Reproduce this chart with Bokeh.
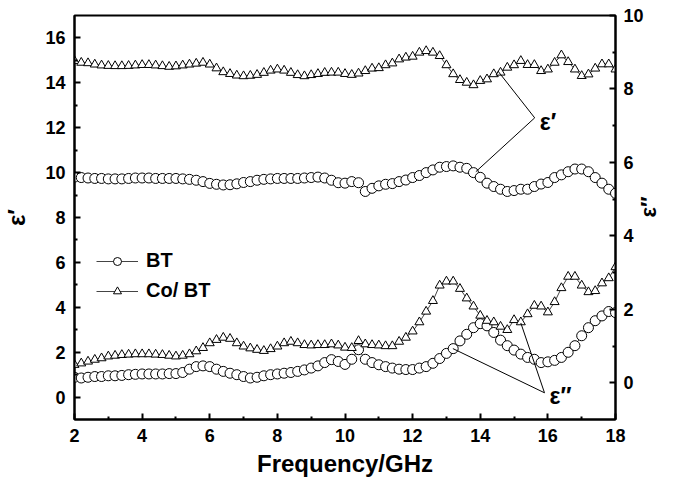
from math import pi
from bokeh.plotting import figure
from bokeh.models import (Range1d, LinearAxis, FixedTicker, Legend, LegendItem,
                          ColumnDataSource)
from bokeh.embed import file_html
from bokeh.resources import INLINE
from bokeh.core.properties import value

# ---------------- data ----------------
freq = [round(2 + 0.2 * i, 1) for i in range(81)]  # GHz, 2.0 .. 18.0

# epsilon' (left axis)
bt_e1 = [9.80, 9.78, 9.76, 9.74, 9.74, 9.72, 9.72, 9.72, 9.74, 9.76,
         9.76, 9.76, 9.74, 9.74, 9.74, 9.74, 9.72, 9.70, 9.66, 9.60,
         9.52, 9.48, 9.45, 9.46, 9.50, 9.56, 9.60, 9.66, 9.70, 9.72,
         9.74, 9.74, 9.74, 9.74, 9.76, 9.78, 9.80, 9.76, 9.66, 9.55,
         9.53, 9.60, 9.55, 9.16, 9.30, 9.41, 9.48, 9.51, 9.60, 9.67,
         9.78, 9.87, 10.00, 10.12, 10.24, 10.27, 10.30, 10.24, 10.19, 10.00,
         9.79, 9.53, 9.38, 9.26, 9.16, 9.20, 9.26, 9.26, 9.38, 9.49,
         9.56, 9.78, 9.90, 10.04, 10.16, 10.16, 10.04, 9.78, 9.53, 9.26,
         9.08]

cobt_e1 = [14.98, 14.90, 14.88, 14.82, 14.78, 14.76, 14.75, 14.75, 14.76, 14.78,
           14.80, 14.80, 14.78, 14.75, 14.72, 14.74, 14.78, 14.82, 14.86, 14.90,
           14.82, 14.65, 14.48, 14.40, 14.33, 14.30, 14.32, 14.36, 14.45, 14.55,
           14.60, 14.55, 14.45, 14.35, 14.30, 14.35, 14.40, 14.45, 14.46, 14.46,
           14.40, 14.36, 14.42, 14.53, 14.64, 14.66, 14.79, 14.87, 15.05, 15.13,
           15.17, 15.35, 15.42, 15.35, 15.20, 14.79, 14.39, 14.13, 14.01, 13.90,
           14.09, 14.16, 14.39, 14.46, 14.68, 14.79, 14.98, 14.80, 14.80, 14.53,
           14.60, 14.90, 15.23, 14.93, 14.60, 14.31, 14.38, 14.64, 14.83, 14.83,
           14.60]

# epsilon'' (right axis)
bt_e2 = [0.15, 0.13, 0.15, 0.17, 0.17, 0.19, 0.19, 0.20, 0.22, 0.23,
         0.24, 0.24, 0.24, 0.24, 0.25, 0.25, 0.28, 0.37, 0.44, 0.46,
         0.44, 0.37, 0.31, 0.26, 0.22, 0.17, 0.13, 0.15, 0.19, 0.22,
         0.24, 0.26, 0.28, 0.31, 0.35, 0.40, 0.46, 0.55, 0.63, 0.58,
         0.50, 0.64, 0.90, 0.64, 0.55, 0.49, 0.44, 0.40, 0.37, 0.36,
         0.36, 0.40, 0.44, 0.53, 0.66, 0.80, 0.93, 1.14, 1.32, 1.50,
         1.61, 1.55, 1.37, 1.16, 1.01, 0.89, 0.78, 0.69, 0.64, 0.55,
         0.57, 0.61, 0.69, 0.83, 1.01, 1.28, 1.50, 1.69, 1.82, 1.94,
         1.91]

cobt_e2 = [0.49, 0.53, 0.58, 0.63, 0.67, 0.72, 0.74, 0.76, 0.77, 0.78,
           0.78, 0.78, 0.77, 0.76, 0.74, 0.72, 0.74, 0.78, 0.86, 0.95,
           1.08, 1.17, 1.23, 1.20, 1.08, 0.99, 0.94, 0.90, 0.87, 0.92,
           0.99, 1.08, 1.12, 1.08, 1.03, 1.02, 1.03, 1.03, 1.05, 1.02,
           0.96, 0.95, 1.14, 1.05, 1.03, 1.02, 1.00, 1.00, 1.12, 1.23,
           1.40, 1.65, 1.94, 2.23, 2.65, 2.76, 2.76, 2.56, 2.30, 2.08,
           1.83, 1.69, 1.65, 1.53, 1.44, 1.71, 1.65, 1.87, 2.10, 2.08,
           1.92, 2.20, 2.58, 2.89, 2.89, 2.65, 2.47, 2.50, 2.71, 2.85,
           3.15]

x_ticks = [2, 4, 6, 8, 10, 12, 14, 16, 18]
x_minor = [3, 5, 7, 9, 11, 13, 15, 17]
left_ticks = [0, 2, 4, 6, 8, 10, 12, 14, 16]
left_minor = [1, 3, 5, 7, 9, 11, 13, 15]
right_ticks = [0, 2, 4, 6, 8, 10]
right_minor = [1, 3, 5, 7, 9]

# annotation pointers (left-axis coordinates)
ann1_x = [14.52, 15.61, 13.87]
ann1_y = [14.53, 12.44, 10.04]
ann2_x = [13.19, 15.90, 15.20]
ann2_y = [2.16, 0.19, 3.30]

FONT = "Liberation Sans"

src = ColumnDataSource(dict(f=freq, bt1=bt_e1, co1=cobt_e1, bt2=bt_e2, co2=cobt_e2))

p = figure(width=677, height=481, x_range=Range1d(2, 18), y_range=Range1d(-1, 17),
           output_backend="svg", toolbar_location=None,
           min_border_left=73, min_border_right=62, min_border_top=15, min_border_bottom=62)
p.extra_y_ranges = {"e2": Range1d(-1, 10)}
p.xgrid.visible = False
p.ygrid.visible = False
p.outline_line_color = "black"
p.outline_line_width = 2
p.background_fill_color = "white"
p.border_fill_color = "white"

right_axis = LinearAxis(y_range_name="e2")
p.add_layout(right_axis, "right")

p.xaxis.ticker = FixedTicker(ticks=x_ticks, minor_ticks=x_minor)
p.yaxis[0].ticker = FixedTicker(ticks=left_ticks, minor_ticks=left_minor)
right_axis.ticker = FixedTicker(ticks=right_ticks, minor_ticks=right_minor)

for ax in [p.xaxis[0], p.yaxis[0], right_axis]:
    ax.axis_line_width = 2
    ax.axis_line_color = "black"
    ax.major_tick_in = 6
    ax.major_tick_out = 0
    ax.minor_tick_in = 3
    ax.minor_tick_out = 0
    ax.major_tick_line_width = 2
    ax.minor_tick_line_width = 2
    ax.major_label_text_font = FONT
    ax.major_label_text_font_style = "bold"
    ax.major_label_text_font_size = "18px"
    ax.major_label_text_color = "black"
    ax.major_label_standoff = 9
    ax.axis_label_text_font = FONT
    ax.axis_label_text_font_style = "bold"
    ax.axis_label_text_color = "black"

p.xaxis.axis_label = "Frequency/GHz"
p.xaxis.axis_label_text_font_size = "24px"
p.xaxis.axis_label_standoff = 5

p.yaxis[0].axis_label = "ε′"
p.yaxis[0].axis_label_text_font_size = "24px"
p.yaxis[0].axis_label_standoff = 12

right_axis.axis_label = "ε″"
right_axis.axis_label_text_font_size = "22px"
right_axis.axis_label_standoff = 2
right_axis.major_label_standoff = 8
if "axis_label_orientation" in right_axis.properties():
    right_axis.axis_label_orientation = pi / 2

LINE_C = "#444444"
l_bt1 = p.line("f", "bt1", source=src, line_color=LINE_C, line_width=1)
l_co1 = p.line("f", "co1", source=src, line_color=LINE_C, line_width=1)
l_bt2 = p.line("f", "bt2", source=src, line_color=LINE_C, line_width=1, y_range_name="e2")
l_co2 = p.line("f", "co2", source=src, line_color=LINE_C, line_width=1, y_range_name="e2")

s_bt1 = p.scatter("f", "bt1", source=src, marker="circle", size=10,
                  fill_color="white", line_color="black", line_width=1)
s_co1 = p.scatter("f", "co1", source=src, marker="triangle", size=9,
                  fill_color="white", line_color="black", line_width=1)
s_bt2 = p.scatter("f", "bt2", source=src, marker="circle", size=10, y_range_name="e2",
                  fill_color="white", line_color="black", line_width=1)
s_co2 = p.scatter("f", "co2", source=src, marker="triangle", size=9, y_range_name="e2",
                  fill_color="white", line_color="black", line_width=1)

# annotation pointers
p.line(ann1_x, ann1_y, line_color="black", line_width=1)
p.line(ann2_x, ann2_y, line_color="black", line_width=1)
p.text(x=[15.76], y=[12.27], text=["ε′"], text_font=value(FONT), text_font_style="bold",
       text_font_size="23px", text_baseline="middle", text_align="left", text_color="black")
p.text(x=[16.05], y=[0.04], text=["ε″"], text_font=value(FONT), text_font_style="bold",
       text_font_size="23px", text_baseline="middle", text_align="left", text_color="black")

legend = Legend(items=[LegendItem(label="BT", renderers=[l_bt1, s_bt1]),
                       LegendItem(label="Co/ BT", renderers=[l_co1, s_co1])],
                location=(22, 117), glyph_width=42, glyph_height=20, label_standoff=8,
                spacing=7, padding=0, margin=0, border_line_color=None,
                background_fill_alpha=0, label_text_font=FONT,
                label_text_font_style="bold", label_text_font_size="20px",
                label_text_color="black")
p.add_layout(legend)

open("out.html", "w").write(file_html(p, INLINE))
